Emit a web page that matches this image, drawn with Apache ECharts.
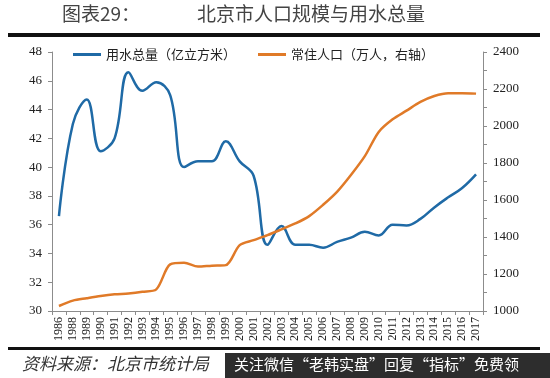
<!DOCTYPE html>
<html>
<head>
<meta charset="utf-8">
<script src="https://cdn.jsdelivr.net/npm/echarts@6/dist/echarts.min.js"></script>
<style>
  html, body { margin: 0; padding: 0; background: #fff; }
  #chart { width: 550px; height: 378px; }
</style>
</head>
<body>
<div id="chart"></div>
<script>
const years = ['1986', '1988', '1989', '1990', '1991', '1992', '1993', '1994', '1995', '1996',
  '1997', '1998', '1999', '2000', '2001', '2002', '2003', '2004', '2005', '2006', '2007',
  '2008', '2009', '2010', '2011', '2012', '2013', '2014', '2015', '2016', '2017']

// 用水总量（亿立方米），左轴
const waterUse = [36.6, 43.0, 44.7, 41.1, 42.0, 46.6, 45.3, 45.9, 45.0, 40.0,
  40.4, 40.4, 41.8, 40.4, 39.4, 34.6, 35.9, 34.6, 34.6, 34.4, 34.8,
  35.1, 35.5, 35.25, 36.0, 35.95, 36.4, 37.2, 37.9, 38.55, 39.5]

// 常住人口（万人），右轴
const population = [1027, 1056, 1069, 1081, 1090, 1095, 1104, 1117, 1252, 1261,
  1240, 1245, 1248, 1356, 1383, 1410, 1441, 1473, 1513, 1574, 1644,
  1735, 1837, 1968, 2036, 2083, 2130, 2162, 2177, 2177, 2175]

const chart = echarts.init(document.getElementById('chart'))

const axisLine = { show: true, lineStyle: { color: '#8c8c8c', width: 1 } }
const labelFont = { color: '#222', fontFamily: 'Liberation Serif', fontSize: 13 }

chart.setOption({
  animation: false,
  textStyle: { fontFamily: 'Liberation Serif' },
  graphic: [
    { type: 'text', left: 62, top: 4, style: { text: '图表29：', fontFamily: 'Noto Sans CJK SC', fontSize: 19, fill: '#444' } },
    { type: 'text', left: 197, top: 4, style: { text: '北京市人口规模与用水总量', fontFamily: 'Noto Sans CJK SC', fontSize: 19, fill: '#444', letterSpacing: 2.5 } },
    { type: 'rect', shape: { x: 8, y: 33, width: 532, height: 4 }, style: { fill: '#111' } },
    { type: 'rect', shape: { x: 8, y: 347, width: 532, height: 3 }, style: { fill: '#111' } },
    { type: 'text', left: 22, top: 355, style: { text: '资料来源：北京市统计局', fontFamily: 'Noto Sans CJK SC', fontSize: 17, fontStyle: 'italic', fill: '#333', letterSpacing: 3 } },
    { type: 'rect', shape: { x: 225, y: 353, width: 325, height: 25 }, style: { fill: '#2d2d2d' } },
    { type: 'text', left: 234, top: 357, style: { text: '关注微信“老韩实盘”回复“指标”免费领', fontFamily: 'Noto Sans CJK SC', fontSize: 15, fill: '#fff' } }
  ],
  legend: {
    left: 68,
    top: 43,
    itemWidth: 28,
    itemHeight: 3,
    itemGap: 22,
    icon: 'rect',
    textStyle: { color: '#222', fontFamily: 'Noto Sans CJK SC', fontSize: 13 },
    data: ['用水总量（亿立方米）', '常住人口（万人，右轴）']
  },
  grid: { left: 52, right: 67, top: 52, bottom: 67 },
  xAxis: {
    type: 'category',
    data: years,
    boundaryGap: true,
    axisLine: axisLine,
    axisTick: { show: true, length: 4, lineStyle: { color: '#8c8c8c' } },
    axisLabel: { rotate: 90, interval: 0, margin: 6, color: '#222', fontFamily: 'Liberation Serif', fontSize: 12 }
  },
  yAxis: [
    {
      type: 'value',
      min: 30,
      max: 48,
      interval: 2,
      axisLine: axisLine,
      axisTick: { show: true, length: 4, lineStyle: { color: '#8c8c8c' } },
      axisLabel: Object.assign({ margin: 10 }, labelFont),
      splitLine: { show: false }
    },
    {
      type: 'value',
      min: 1000,
      max: 2400,
      interval: 100,
      axisLine: axisLine,
      axisTick: { show: true, length: 4, lineStyle: { color: '#8c8c8c' } },
      axisLabel: Object.assign({ margin: 10, formatter: v => (v % 200 === 0 ? v : '') }, labelFont),
      splitLine: { show: false }
    }
  ],
  series: [
    {
      name: '用水总量（亿立方米）',
      type: 'line',
      yAxisIndex: 0,
      data: waterUse,
      smooth: 0.4,
      symbol: 'none',
      itemStyle: { color: '#1f6aa6' },
      lineStyle: { color: '#1f6aa6', width: 2.5 }
    },
    {
      name: '常住人口（万人，右轴）',
      type: 'line',
      yAxisIndex: 1,
      data: population,
      smooth: 0.3,
      symbol: 'none',
      itemStyle: { color: '#e07a28' },
      lineStyle: { color: '#e07a28', width: 2.5 }
    }
  ]
})
</script>
</body>
</html>
